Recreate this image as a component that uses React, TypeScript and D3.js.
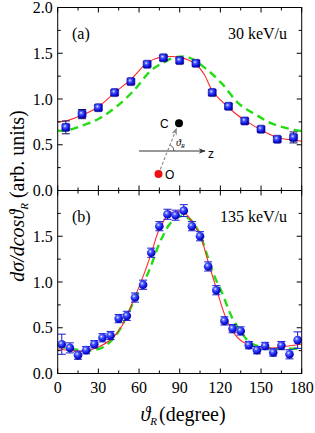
import React from "react";
import * as d3 from "d3";

// ---------- data ----------
const angleA = [6, 18, 30, 42, 54, 66, 78, 90, 102, 114, 126, 138, 150, 162, 174];
const valueA = [0.69, 0.835, 0.905, 1.07, 1.19, 1.38, 1.45, 1.42, 1.39, 1.07, 0.92, 0.76, 0.67, 0.56, 0.58];
const errA = [0.07, 0.05, 0.03, 0.03, 0.03, 0.03, 0.03, 0.03, 0.03, 0.03, 0.03, 0.03, 0.03, 0.03, 0.06];

const fitAx = [0, 6.6, 19, 30, 42, 54, 66, 72, 78, 84, 90, 96, 102, 108, 114, 120, 126, 132, 138, 150, 162, 174, 180];
const fitARed = [0.75, 0.763, 0.83, 0.916, 1.07, 1.215, 1.397, 1.44, 1.46, 1.465, 1.455, 1.43, 1.38, 1.27, 1.09, 0.99, 0.91, 0.83, 0.77, 0.66, 0.58, 0.55, 0.54];
const fitGx = [0, 6.6, 16.5, 31, 43.6, 56, 68, 75.7, 86.8, 96.6, 109, 121, 133.6, 146, 158.3, 175.5, 180];
const fitAGreen = [0.654, 0.655, 0.7, 0.79, 0.92, 1.09, 1.3, 1.38, 1.455, 1.455, 1.335, 1.17, 0.95, 0.83, 0.73, 0.66, 0.65];

const angleB = [3, 9, 15, 21, 27, 33, 39, 45, 51, 57, 63, 69, 75, 81, 87, 93, 99, 105, 111, 117, 123, 129, 135, 141, 147, 153, 159, 165, 171, 177];
const valueB = [0.32, 0.28, 0.2, 0.255, 0.32, 0.39, 0.415, 0.6, 0.63, 0.83, 0.97, 1.32, 1.61, 1.74, 1.73, 1.78, 1.61, 1.5, 1.17, 0.91, 0.575, 0.49, 0.465, 0.31, 0.255, 0.3, 0.23, 0.305, 0.21, 0.365];
const errB = [0.11, 0.055, 0.045, 0.04, 0.04, 0.045, 0.045, 0.045, 0.05, 0.05, 0.05, 0.05, 0.05, 0.055, 0.055, 0.065, 0.05, 0.05, 0.05, 0.05, 0.045, 0.045, 0.045, 0.04, 0.04, 0.04, 0.04, 0.045, 0.05, 0.09];

const fitBx = [0, 10, 20, 30, 40, 47, 57, 64, 69, 75, 82, 88, 94, 99, 105, 111, 117, 123, 129, 136, 141, 147, 160, 170, 180];
const fitBRed = [0.27, 0.25, 0.245, 0.29, 0.38, 0.51, 0.84, 1.1, 1.31, 1.58, 1.74, 1.77, 1.75, 1.66, 1.51, 1.22, 0.93, 0.65, 0.46, 0.35, 0.32, 0.285, 0.28, 0.3, 0.32];
const fitBGx = [0, 10, 20, 28, 35, 44, 56, 67, 75, 82, 87, 92, 98, 105, 109, 116, 121, 129, 135, 141, 150, 160, 170, 180];
const fitBGreen = [0.3, 0.27, 0.25, 0.26, 0.3, 0.44, 0.78, 1.11, 1.42, 1.62, 1.7, 1.72, 1.68, 1.52, 1.35, 1.05, 0.89, 0.6, 0.46, 0.35, 0.29, 0.27, 0.27, 0.27];

const xTicks = [0, 30, 60, 90, 120, 150, 180];
const yTicksA = [0, 0.5, 1.0, 1.5, 2.0];
const yTicksB = [0, 0.5, 1.0, 1.5];

// ---------- layout ----------
const W = 315, H = 433;
const X0 = 57.7, X1 = 301.7;
const panels = [
  { top: 7.5, bottom: 190.5 },
  { top: 190.5, bottom: 373.5 },
];
const SERIF = { fontFamily: '"Liberation Serif", "Times New Roman", serif' };
const SANS = { fontFamily: '"Liberation Sans", Arial, sans-serif' };

const x = d3.scaleLinear().domain([0, 180]).range([X0, X1]);

function Panel({ idx, angles, values, errs, rx, ry, gx, gy, label, energy, yTicks, square }: any) {
  const p = panels[idx];
  const y = d3.scaleLinear().domain([0, 2]).range([p.bottom, p.top]);
  const line = d3.line<number>().curve(d3.curveCatmullRom.alpha(0.5));
  const redPath = line(rx.map((v: number, i: number) => [x(v), y(ry[i])] as any) as any);
  const greenPath = line(gx.map((v: number, i: number) => [x(v), y(gy[i])] as any) as any);
  const minorX = d3.range(0, 181, 15);
  const minorY = d3.range(0, 2.001, 0.25);
  const errColor = square ? "#101060" : "#1a1ad0";
  return (
    <g>
      <clipPath id={`clip${idx}`}>
        <rect x={X0} y={p.top} width={X1 - X0} height={p.bottom - p.top} />
      </clipPath>
      <g clipPath={`url(#clip${idx})`}>
        <path d={greenPath || ""} fill="none" stroke="#22dd11" strokeWidth={2.4} strokeDasharray="8,5" />
        <path d={redPath || ""} fill="none" stroke="#ff2a2a" strokeWidth={1.1} />
      </g>
      {angles.map((a: number, i: number) => {
        const cx = x(a), cy = y(values[i]);
        const y1 = y(values[i] + errs[i]), y2 = y(values[i] - errs[i]);
        return (
          <g key={i}>
            <line x1={cx} x2={cx} y1={y1} y2={y2} stroke={errColor} strokeWidth={1} />
            <line x1={cx - 4} x2={cx + 4} y1={y1} y2={y1} stroke={errColor} strokeWidth={1} />
            <line x1={cx - 4} x2={cx + 4} y1={y2} y2={y2} stroke={errColor} strokeWidth={1} />
            {square ? (
              <rect x={cx - 4} y={cy - 4} width={8} height={8} rx={1.5} fill="url(#ballGrad)" stroke="#0a0a90" strokeWidth={0.6} />
            ) : (
              <circle cx={cx} cy={cy} r={4.3} fill="url(#ballGrad)" />
            )}
          </g>
        );
      })}
      <rect x={X0} y={p.top} width={X1 - X0} height={p.bottom - p.top} fill="none" stroke="#000" strokeWidth={1} />
      {minorX.map((t) => {
        const len = t % 30 === 0 ? 5 : 3;
        return (
          <g key={"xt" + t}>
            <line x1={x(t)} x2={x(t)} y1={p.bottom} y2={p.bottom - len} stroke="#000" />
            <line x1={x(t)} x2={x(t)} y1={p.top} y2={p.top + len} stroke="#000" />
          </g>
        );
      })}
      {minorY.map((t) => {
        const major = Math.abs(t * 2 - Math.round(t * 2)) < 1e-6;
        const len = major ? 5 : 3;
        return (
          <g key={"yt" + t}>
            <line x1={X0} x2={X0 + len} y1={y(t)} y2={y(t)} stroke="#000" />
            <line x1={X1} x2={X1 - len} y1={y(t)} y2={y(t)} stroke="#000" />
          </g>
        );
      })}
      {yTicks.map((t: number) => (
        <text key={"yl" + t} x={X0 - 5} y={y(t) + 5.5} textAnchor="end" fontSize={16} style={SERIF}>
          {d3.format(".1f")(t)}
        </text>
      ))}
      <text x={72} y={p.top + 31} fontSize={16} style={SERIF}>{label}</text>
      <text x={287} y={p.top + 31} fontSize={16} style={SERIF} textAnchor="end">{energy}</text>
    </g>
  );
}

export default function App() {
  const pb = panels[1];
  return (
    <svg width={W} height={H} style={{ position: "absolute", left: 0, top: 0, background: "#fff" }}>
      <defs>
        <radialGradient id="ballGrad" cx="38%" cy="35%" r="65%">
          <stop offset="0%" stopColor="#e8eeff" />
          <stop offset="30%" stopColor="#4a5cff" />
          <stop offset="75%" stopColor="#1010e0" />
          <stop offset="100%" stopColor="#0808a0" />
        </radialGradient>
        <marker id="arrowBlk" viewBox="0 0 10 10" refX="9" refY="5" markerWidth="9" markerHeight="7" orient="auto" markerUnits="userSpaceOnUse">
          <path d="M0,1 L10,5 L0,9 L3,5 Z" fill="#333" />
        </marker>
        <marker id="arrowGray" viewBox="0 0 10 10" refX="9" refY="5" markerWidth="8" markerHeight="7" orient="auto" markerUnits="userSpaceOnUse">
          <path d="M0,1 L10,5 L0,9 L3,5 Z" fill="#888" />
        </marker>
      </defs>
      <Panel idx={0} angles={angleA} values={valueA} errs={errA} rx={fitAx} ry={fitARed} gx={fitGx} gy={fitAGreen}
        label="(a)" energy="30 keV/u" yTicks={yTicksA} square={true} />
      <Panel idx={1} angles={angleB} values={valueB} errs={errB} rx={fitBx} ry={fitBRed} gx={fitBGx} gy={fitBGreen}
        label="(b)" energy="135 keV/u" yTicks={yTicksB} square={false} />

      {/* inset diagram */}
      <g>
        <line x1={139} y1={151} x2={205} y2={151} stroke="#333" strokeWidth={1} markerEnd="url(#arrowBlk)" />
        <text x={208} y={158} fontSize={12} style={SANS}>z</text>
        <line x1={158.5} y1={174} x2={176.5} y2={128.5} stroke="#888" strokeWidth={1.1} strokeDasharray="3,2" markerEnd="url(#arrowGray)" />
        <path d="M 174,151 A 6.5 6.5 0 0 0 170.2,145" fill="none" stroke="#333" strokeWidth={0.8} />
        <text x={176} y={146} fontSize={10} fontStyle="italic" style={SERIF}>
          ϑ<tspan fontSize={6} dy={2}>R</tspan>
        </text>
        <circle cx={179} cy={123.3} r={4} fill="#000" />
        <text x={160} y={127.5} fontSize={12} style={SANS}>C</text>
        <circle cx={158.5} cy={174} r={4} fill="#ee1111" />
        <text x={165} y={179} fontSize={12} style={SANS}>O</text>
      </g>

      {xTicks.map((t) => (
        <text key={"xl" + t} x={x(t)} y={pb.bottom + 19} textAnchor="middle" fontSize={16} style={SERIF}>{t}</text>
      ))}
      <text x={183} y={421} textAnchor="middle" fontSize={20} style={SERIF}>
        <tspan fontStyle="italic">ϑ</tspan>
        <tspan fontStyle="italic" fontSize={11} dy={4}>R</tspan>
        <tspan dy={-4} dx={2}>(degree)</tspan>
      </text>
      <text transform="translate(24,196) rotate(-90)" textAnchor="middle" fontSize={20} style={SERIF}>
        <tspan fontStyle="italic">dσ/dcos</tspan>
        <tspan fontStyle="italic">ϑ</tspan>
        <tspan fontStyle="italic" fontSize={11} dy={4}>R</tspan>
        <tspan dy={-4}> (arb. units)</tspan>
      </text>
    </svg>
  );
}
